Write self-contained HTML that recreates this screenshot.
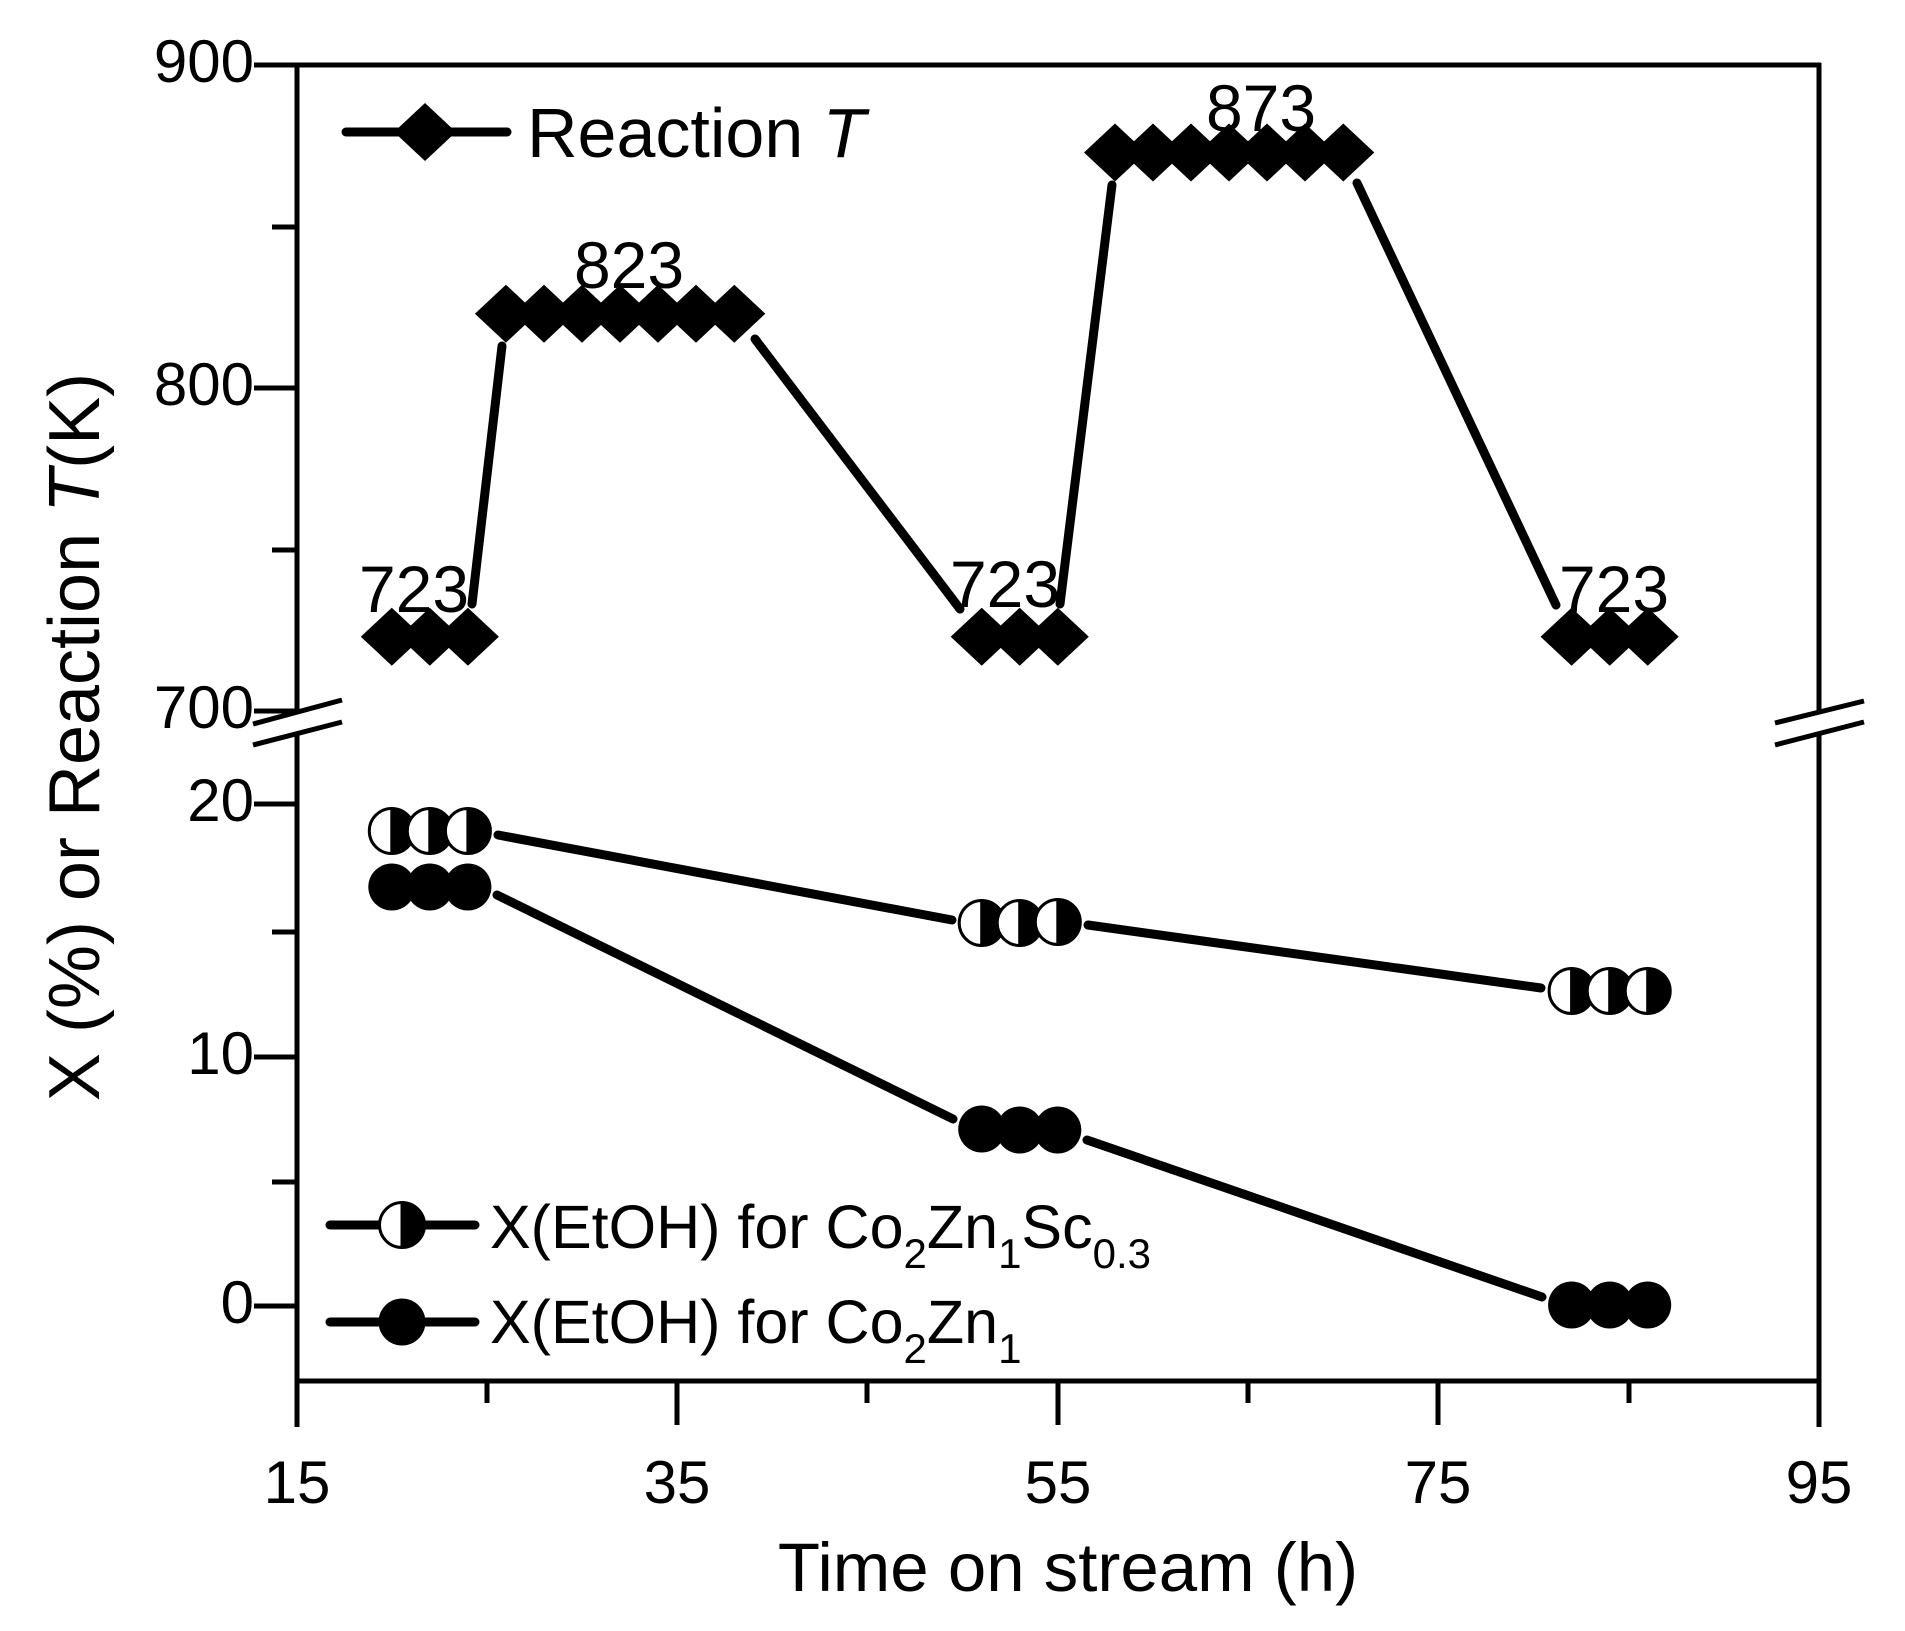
<!DOCTYPE html>
<html><head><meta charset="utf-8"><style>
html,body{margin:0;padding:0;background:#fff;}
svg{display:block;}
text{font-family:"Liberation Sans",Arial,sans-serif;fill:#000;}
</style></head><body>
<svg width="1905" height="1631" viewBox="0 0 1905 1631" xmlns="http://www.w3.org/2000/svg">
<defs>
<g id="dia"><polygon points="-31,0 0,-29 31,0 0,29" fill="#000"/></g>
<g id="half"><circle r="22.5" fill="#fff" stroke="#000" stroke-width="3"/><path d="M0,-22.5 A22.5,22.5 0 0 1 0,22.5 Z" fill="#000"/><line x1="0" y1="-22.5" x2="0" y2="22.5" stroke="#000" stroke-width="3"/></g>
<g id="full"><circle r="23.5" fill="#000"/></g>
</defs>
<g stroke="#000" stroke-width="5" fill="none" stroke-linecap="butt">
<line x1="254" y1="65" x2="1821" y2="65"/>
<line x1="297" y1="63" x2="297" y2="712"/>
<line x1="297" y1="734" x2="297" y2="1427"/>
<line x1="1819" y1="63" x2="1819" y2="712"/>
<line x1="1819" y1="734" x2="1819" y2="1427"/>
<line x1="295" y1="1381" x2="1821" y2="1381"/>
<line x1="254" y1="388" x2="297" y2="388"/>
<line x1="254" y1="711" x2="297" y2="711"/>
<line x1="272" y1="227" x2="297" y2="227"/>
<line x1="272" y1="550" x2="297" y2="550"/>
<line x1="254" y1="804" x2="297" y2="804"/>
<line x1="254" y1="1057" x2="297" y2="1057"/>
<line x1="254" y1="1306" x2="297" y2="1306"/>
<line x1="272" y1="932" x2="297" y2="932"/>
<line x1="272" y1="1182" x2="297" y2="1182"/>
<line x1="677" y1="1381" x2="677" y2="1425"/>
<line x1="1058" y1="1381" x2="1058" y2="1425"/>
<line x1="1438" y1="1381" x2="1438" y2="1425"/>
<line x1="487" y1="1381" x2="487" y2="1403"/>
<line x1="867" y1="1381" x2="867" y2="1403"/>
<line x1="1248" y1="1381" x2="1248" y2="1403"/>
<line x1="1629" y1="1381" x2="1629" y2="1403"/>
<line x1="253" y1="724" x2="342" y2="700"/>
<line x1="253" y1="745" x2="342" y2="722"/>
<line x1="1775" y1="723" x2="1864" y2="701"/>
<line x1="1775" y1="745" x2="1864" y2="722"/>
</g>
<g font-size="60" text-anchor="end">
<text x="254" y="82">900</text>
<text x="254" y="405">800</text>
<text x="254" y="728">700</text>
<text x="254" y="821">20</text>
<text x="254" y="1074">10</text>
<text x="254" y="1323">0</text>
</g>
<g font-size="60" text-anchor="middle">
<text x="297" y="1503">15</text>
<text x="677" y="1503">35</text>
<text x="1058" y="1503">55</text>
<text x="1438" y="1503">75</text>
<text x="1819" y="1503">95</text>
</g>
<text x="1068" y="1591" font-size="69" text-anchor="middle">Time on stream (h)</text>
<text transform="translate(99,737) rotate(-90)" font-size="72" text-anchor="middle">X (%) or Reaction <tspan font-style="italic">T</tspan>(K)</text>
<g stroke="#000" stroke-width="9" stroke-linecap="round" fill="none">
<line x1="472" y1="604" x2="502" y2="346"/>
<line x1="755" y1="339" x2="960" y2="609"/>
<line x1="1060" y1="604" x2="1112" y2="185"/>
<line x1="1357" y1="183" x2="1556" y2="605"/>
<line x1="498" y1="835" x2="952" y2="920"/>
<line x1="1088" y1="925" x2="1541" y2="988"/>
<line x1="497" y1="895" x2="953" y2="1119"/>
<line x1="1087" y1="1140" x2="1542" y2="1297"/>
<line x1="346" y1="132" x2="507" y2="132"/>
<line x1="330" y1="1225" x2="475" y2="1225"/>
<line x1="330" y1="1322" x2="475" y2="1322"/>
</g>
<g>
<use href="#dia" x="391.8" y="636.7"/><use href="#dia" x="429.8" y="636.7"/><use href="#dia" x="467.9" y="636.7"/>
<use href="#dia" x="505.9" y="313.7"/><use href="#dia" x="544" y="313.7"/><use href="#dia" x="582" y="313.7"/><use href="#dia" x="620" y="313.7"/><use href="#dia" x="658" y="313.7"/><use href="#dia" x="696" y="313.7"/><use href="#dia" x="734.3" y="313.7"/>
<use href="#dia" x="981.7" y="636.7"/><use href="#dia" x="1019.7" y="636.7"/><use href="#dia" x="1057.8" y="636.7"/>
<use href="#dia" x="1115" y="152.5"/><use href="#dia" x="1153" y="152.5"/><use href="#dia" x="1191" y="152.5"/><use href="#dia" x="1229" y="152.5"/><use href="#dia" x="1267" y="152.5"/><use href="#dia" x="1305" y="152.5"/><use href="#dia" x="1343.3" y="152.5"/>
<use href="#dia" x="1571.6" y="636.7"/><use href="#dia" x="1609.7" y="636.7"/><use href="#dia" x="1647.7" y="636.7"/>
<use href="#dia" x="425" y="132"/>
</g>
<g>
<use href="#half" x="391.8" y="831"/><use href="#half" x="429.8" y="831"/><use href="#half" x="467.9" y="831"/>
<use href="#half" x="981.7" y="923"/><use href="#half" x="1019.7" y="923"/><use href="#half" x="1057.8" y="922"/>
<use href="#half" x="1571.6" y="991"/><use href="#half" x="1609.7" y="991"/><use href="#half" x="1647.7" y="991"/>
<use href="#half" x="402" y="1225"/>
</g>
<g>
<use href="#full" x="391.8" y="887"/><use href="#full" x="429.8" y="887"/><use href="#full" x="467.9" y="887"/>
<use href="#full" x="981.7" y="1129"/><use href="#full" x="1019.7" y="1130"/><use href="#full" x="1057.8" y="1130"/>
<use href="#full" x="1571.6" y="1305"/><use href="#full" x="1609.7" y="1305"/><use href="#full" x="1647.7" y="1305"/>
<use href="#full" x="402" y="1322"/>
</g>
<g font-size="66" text-anchor="middle">
<text x="414" y="612">723</text>
<text x="1005" y="607">723</text>
<text x="1614" y="612">723</text>
<text x="629" y="288">823</text>
<text x="1261" y="131">873</text>
</g>
<text x="527" y="157" font-size="70">Reaction <tspan font-style="italic">T</tspan></text>
<text x="490" y="1248" font-size="61">X(EtOH) for Co<tspan font-size="42" dy="20">2</tspan><tspan dy="-20">Zn</tspan><tspan font-size="42" dy="20">1</tspan><tspan dy="-20">Sc</tspan><tspan font-size="42" dy="20">0.3</tspan></text>
<text x="490" y="1343" font-size="61">X(EtOH) for Co<tspan font-size="42" dy="20">2</tspan><tspan dy="-20">Zn</tspan><tspan font-size="42" dy="20">1</tspan></text>
</svg>
</body></html>
